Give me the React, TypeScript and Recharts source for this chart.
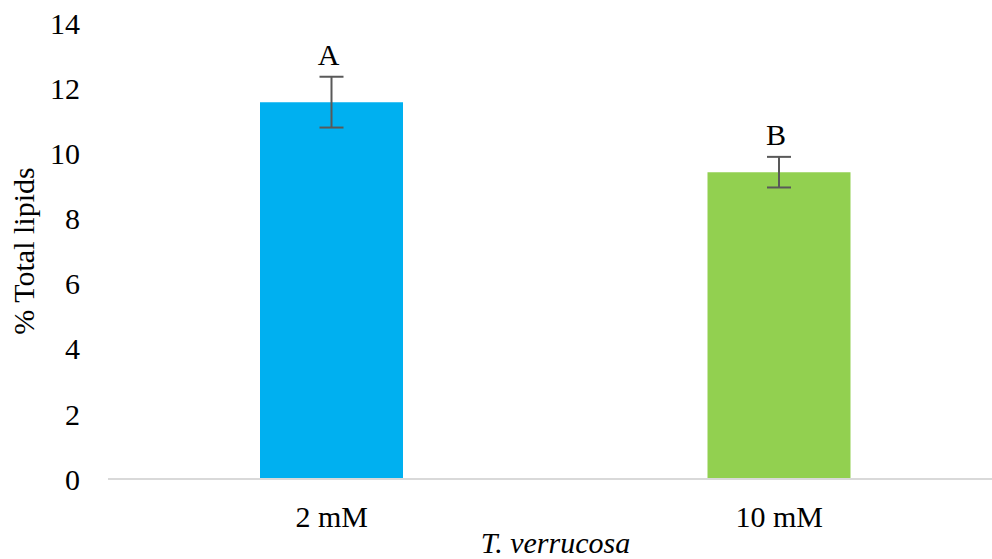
import React from 'react';
import { BarChart, Bar, XAxis, YAxis, Cell, ErrorBar, LabelList } from 'recharts';

const categories = ['2 mM', '10 mM'];
const lipids = [11.57, 9.42];
const errors = [0.78, 0.47];
const letters = ['A', 'B'];
const barColors = ['#00B0F0', '#92D050'];
const yTicks = [0, 2, 4, 6, 8, 10, 12, 14];

const data = categories.map((name, i) => ({
  name,
  value: lipids[i],
  err: errors[i],
  letter: letters[i],
}));

const FONT = '"Liberation Serif", "Times New Roman", serif';
const FS = 30;

const LetterLabel = (props: any) => {
  const { x, y, width, height, value, index } = props;
  const row = data[index];
  const perUnit = height / row.value;
  const errTop = y - row.err * perUnit;
  return (
    <text
      x={x + width / 2 - 3}
      y={errTop - 12}
      textAnchor="middle"
      fontFamily={FONT}
      fontSize={FS}
      fill="#000"
    >
      {value}
    </text>
  );
};

const YTitle = (props: any) => {
  const { viewBox } = props;
  const cy = viewBox.y + viewBox.height / 2;
  const cx = 23;
  return (
    <text
      x={cx}
      y={cy}
      transform={`rotate(-90 ${cx} ${cy})`}
      textAnchor="middle"
      dominantBaseline="central"
      fontFamily={FONT}
      fontSize={FS}
      fill="#000"
    >
      % Total lipids
    </text>
  );
};

const XTitle = (props: any) => {
  const { viewBox } = props;
  return (
    <text
      x={viewBox.x + viewBox.width / 2}
      y={553}
      textAnchor="middle"
      fontFamily={FONT}
      fontSize={FS}
      fontStyle="italic"
      fill="#000"
    >
      T. verrucosa
    </text>
  );
};

export default function App() {
  return (
    <div
      style={{
        position: 'absolute',
        left: 0,
        top: 0,
        width: 992,
        height: 559,
        overflow: 'hidden',
        background: '#fff',
      }}
    >
      <BarChart
        width={1003}
        height={559}
        data={data}
        margin={{ top: 23, right: 0, left: 0, bottom: 0 }}
      >
        <XAxis
          dataKey="name"
          axisLine={{ stroke: '#D9D9D9', strokeWidth: 2 }}
          tickLine={false}
          tickSize={0}
          tickMargin={27}
          tick={{ fontFamily: FONT, fontSize: FS, fill: '#000' }}
          height={80}
          label={<XTitle />}
        />
        <YAxis
          domain={[0, 14]}
          ticks={yTicks}
          axisLine={false}
          tickLine={false}
          tickSize={0}
          tickMargin={28}
          width={108}
          tick={{ fontFamily: FONT, fontSize: FS, fill: '#000' }}
          label={<YTitle />}
        />
        <Bar dataKey="value" barSize={143} isAnimationActive={false}>
          {data.map((d, i) => (
            <Cell key={d.name} fill={barColors[i]} />
          ))}
          <ErrorBar dataKey="err" width={12} stroke="#595959" strokeWidth={2} />
          <LabelList dataKey="letter" content={<LetterLabel />} />
        </Bar>
      </BarChart>
    </div>
  );
}
